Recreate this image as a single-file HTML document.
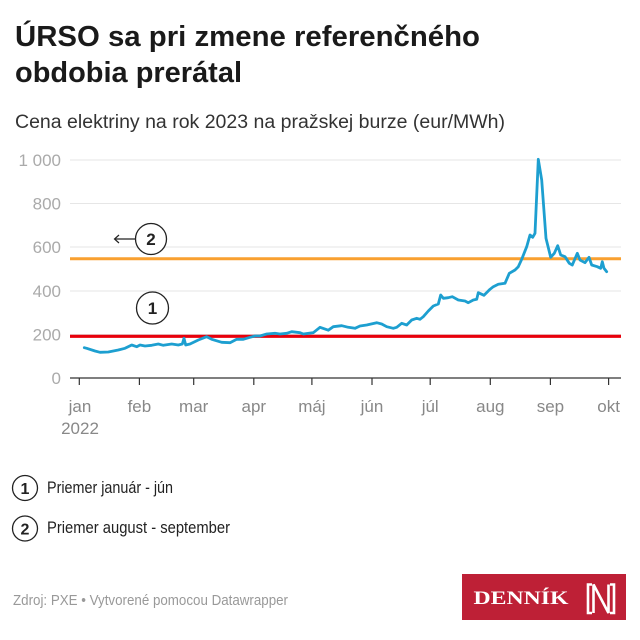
<!DOCTYPE html>
<html><head><meta charset="utf-8">
<style>
html,body{margin:0;padding:0;background:#fff;}
svg{display:block;}
text{font-family:"Liberation Sans",Arial,sans-serif;}
text.serif{font-family:"Liberation Serif","DejaVu Serif",serif;}
</style></head>
<body>
<svg width="640" height="640" viewBox="0 0 640 640" xmlns="http://www.w3.org/2000/svg">
<rect width="640" height="640" fill="#fff"/>
<!-- Title -->
<text x="15" y="46" font-size="29" font-weight="bold" fill="#1a1a1a" textLength="465" lengthAdjust="spacingAndGlyphs">ÚRSO sa pri zmene referenčného</text>
<text x="15" y="82" font-size="29" font-weight="bold" fill="#1a1a1a" textLength="227" lengthAdjust="spacingAndGlyphs">obdobia prerátal</text>
<text x="15" y="128" font-size="19" fill="#333" textLength="490" lengthAdjust="spacingAndGlyphs">Cena elektriny na rok 2023 na pražskej burze (eur/MWh)</text>

<!-- gridlines -->
<g stroke="#e6e6e6" stroke-width="1">
<line x1="70" y1="160" x2="621" y2="160"/>
<line x1="70" y1="203.5" x2="621" y2="203.5"/>
<line x1="70" y1="247" x2="621" y2="247"/>
<line x1="70" y1="291" x2="621" y2="291"/>
<line x1="70" y1="334.5" x2="621" y2="334.5"/>
</g>
<!-- y labels -->
<g font-size="17" fill="#aaa" text-anchor="end">
<text x="61" y="166">1 000</text>
<text x="61" y="209.5">800</text>
<text x="61" y="253">600</text>
<text x="61" y="297">400</text>
<text x="61" y="340.5">200</text>
<text x="61" y="384">0</text>
</g>
<!-- axis -->
<line x1="70" y1="378" x2="621" y2="378" stroke="#333" stroke-width="1.2"/>
<g stroke="#333" stroke-width="1.2">
<line x1="79.3" y1="378" x2="79.3" y2="385"/>
<line x1="139.4" y1="378" x2="139.4" y2="385"/>
<line x1="193.7" y1="378" x2="193.7" y2="385"/>
<line x1="253.8" y1="378" x2="253.8" y2="385"/>
<line x1="311.9" y1="378" x2="311.9" y2="385"/>
<line x1="372" y1="378" x2="372" y2="385"/>
<line x1="430.2" y1="378" x2="430.2" y2="385"/>
<line x1="490.3" y1="378" x2="490.3" y2="385"/>
<line x1="550.4" y1="378" x2="550.4" y2="385"/>
<line x1="608.6" y1="378" x2="608.6" y2="385"/>
</g>
<g font-size="17" fill="#888" text-anchor="middle">
<text x="80" y="412">jan</text>
<text x="80" y="434">2022</text>
<text x="139.4" y="412">feb</text>
<text x="193.7" y="412">mar</text>
<text x="253.8" y="412">apr</text>
<text x="311.9" y="412">máj</text>
<text x="372" y="412">jún</text>
<text x="430.2" y="412">júl</text>
<text x="490.3" y="412">aug</text>
<text x="550.4" y="412">sep</text>
<text x="608.6" y="412">okt</text>
</g>

<!-- reference lines -->
<line x1="70" y1="258.7" x2="621" y2="258.7" stroke="#f9a030" stroke-width="3"/>
<line x1="70" y1="336.3" x2="621" y2="336.3" stroke="#e8000b" stroke-width="3.2"/>

<!-- data line -->
<polyline fill="none" stroke="#1d9fd0" stroke-width="2.8" stroke-linejoin="round" stroke-linecap="round" points="
84.3,347.7 86.7,348.3 95,351 100,352.3 108.3,352 118.3,350 125,348.3 131.7,345 136.7,346.7 140,345 145,346 151.7,345.3 158.3,344 163.3,345.3 171.7,344 178.3,345 182.3,344 184,338.3 185.7,345 190,344 198.3,340 206.7,336.7 211.7,339.3 221.7,342.3 230,342.7 236.7,339.3 243.3,339.3 250,337.3 255,336 260,336 266.7,334 275,333.3 280,334 286.7,333.3 291.7,331.7 300,332.7 303.3,334 313.3,332.7 320,327.3 328.3,330.2 333.3,326.7 341.7,325.7 348.3,327.3 355,328.3 360,326 366.7,325 376.7,322.7 381.7,324 386.7,326.7 393.3,328.3 396.7,327.3 401.7,323.3 406.7,325 411.7,320 416.7,318.3 420,319.3 423.3,316.7 428.3,311 433.3,306 438.3,304 440.7,295 443.3,298.3 448.3,297.7 452.3,296.7 458.3,300 465,301 468.3,302.7 473.3,300 476.7,299.3 478.3,292.7 484,295.3 490,289.3 493.3,286.7 498.3,284.3 505,283.3 509.3,273.3 515,270 518.3,266.7 521.7,259.3 526.7,246.7 530,235 532.7,237.3 535,233.3 538.3,159.3 541.7,180 546,238.3 550.7,257.3 554.3,253.3 557.7,245.7 560.7,255 565,256.7 569.3,263.3 572.3,265 577.3,253.3 580,260 585,262.7 589,257.3 591.7,265 597.3,266.7 600.7,268.3 602.3,261.7 604,268.3 606.7,271.7"/>

<!-- chart annotations -->
<line x1="115" y1="239" x2="135" y2="239" stroke="#222" stroke-width="1.2"/>
<polyline points="119,235 114.5,239 119,243" fill="none" stroke="#222" stroke-width="1.2"/>
<circle cx="151" cy="239" r="15.5" fill="#fff" stroke="#222" stroke-width="1.3"/>
<text x="151" y="245" font-size="17" font-weight="bold" fill="#222" text-anchor="middle">2</text>
<circle cx="152.5" cy="308" r="16" fill="#fff" stroke="#222" stroke-width="1.3"/>
<text x="152.5" y="314" font-size="17" font-weight="bold" fill="#222" text-anchor="middle">1</text>

<!-- legend -->
<circle cx="25" cy="488" r="12.5" fill="#fff" stroke="#222" stroke-width="1.3"/>
<text x="25" y="494" font-size="16" font-weight="bold" fill="#222" text-anchor="middle">1</text>
<text x="47" y="493" font-size="17" fill="#222" textLength="126" lengthAdjust="spacingAndGlyphs">Priemer január - jún</text>
<circle cx="25" cy="528.5" r="12.5" fill="#fff" stroke="#222" stroke-width="1.3"/>
<text x="25" y="534.5" font-size="16" font-weight="bold" fill="#222" text-anchor="middle">2</text>
<text x="47" y="533" font-size="17" fill="#222" textLength="183" lengthAdjust="spacingAndGlyphs">Priemer august - september</text>

<!-- footer -->
<text x="13" y="605" font-size="15" fill="#999" textLength="275" lengthAdjust="spacingAndGlyphs">Zdroj: PXE • Vytvorené pomocou Datawrapper</text>

<!-- logo -->
<rect x="462" y="574" width="164" height="46" fill="#be2036"/>
<text class="serif" x="473.5" y="604" font-size="19" font-weight="bold" fill="#fff" textLength="95" lengthAdjust="spacingAndGlyphs">DENNÍK</text>
<g fill="none" stroke="#fff" stroke-width="2.6">
<polyline points="592,584.5 588,584.5 588,613 592,613"/>
<polyline points="610,584.5 614,584.5 614,613 610,613"/>
<polyline points="593.5,613 593.5,584.5 608.5,613 608.5,584.5"/>
</g>
</svg>
</body></html>
